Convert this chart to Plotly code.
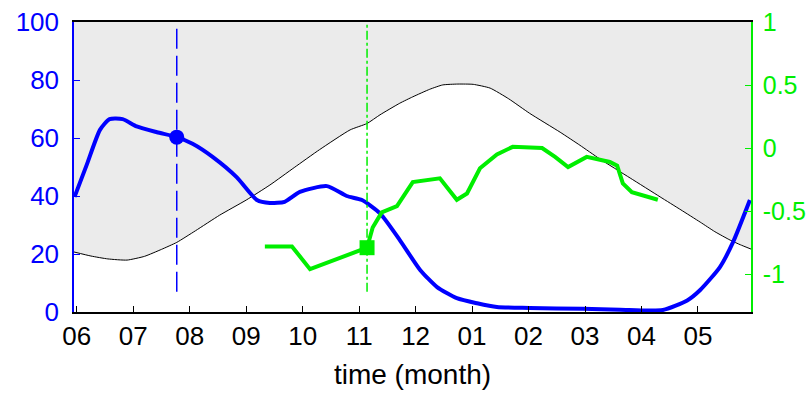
import plotly.graph_objects as go

# month labels (x axis: month index from June)
month_labels = ["06", "07", "08", "09", "10", "11", "12", "01", "02", "03", "04", "05"]
month_pos = list(range(12))

# blue series (left axis, 0-100)
blue_x = [-0.04, 0.18, 0.41, 0.58, 0.81, 1.06, 1.42, 1.77, 2.05, 2.41, 2.83, 3.19, 3.42,
          3.68, 3.95, 4.43, 4.78, 5.05, 5.37, 5.72, 6.08, 6.38, 6.73, 7.09, 7.44, 8.02,
          8.96, 9.62, 10.38, 10.81, 11.04, 11.39, 11.62, 11.92]
blue_y = [39.7, 51, 62.8, 66.5, 66.5, 64, 62, 60.3, 58, 53.4, 46.5, 38.6, 37.6,
          38, 41.4, 43.4, 40, 38.6, 34, 24.8, 14.5, 8.6, 4.8, 3, 1.7, 1.4,
          1.1, 0.8, 0.7, 4, 7.6, 15.5, 24, 38.6]

# black reference curve (left axis)
black_x = [-0.05, 0.25, 0.55, 0.89, 1.20, 1.50, 1.77, 2.10, 2.53, 3.00, 3.42, 3.85, 4.30, 4.84, 5.14,
           5.37, 5.72, 5.95, 6.25, 6.48, 6.75, 7.02, 7.32, 7.65, 8.02, 8.56, 8.91, 9.26, 9.80,
           10.33, 10.70, 11.04, 11.30, 11.57, 11.75, 11.94]
black_y = [20.7, 19.3, 18.3, 17.9, 19.2, 21.6, 24, 28.0, 33.4, 38.6, 43.8, 49.8, 56, 62.8, 65,
           68, 72, 74.2, 76.8, 78.3, 78.6, 78.5, 77.2, 73.5, 68.5, 62, 57.5, 52.8, 46.2,
           39.7, 35.2, 31, 27.7, 24.8, 23.2, 21.7]

# green series (right axis)
green_x = [3.33, 3.81, 4.13, 5.01, 5.14, 5.24, 5.40, 5.67, 5.95, 6.43, 6.73, 6.91, 7.14,
           7.44, 7.72, 8.24, 8.47, 8.70, 9.03, 9.44, 9.57, 9.67, 9.83, 10.29]
green_y = [-0.78, -0.78, -0.96, -0.81, -0.79, -0.63, -0.51, -0.46, -0.27, -0.24, -0.41, -0.36, -0.16,
           -0.05, 0.01, 0.0, -0.07, -0.15, -0.07, -0.11, -0.14, -0.28, -0.35, -0.41]

blue_mark = (1.77, 60.3)
green_mark = (5.14, -0.79)

BLUE = "#0000ff"
GREEN = "#00ee00"
FONT = "Liberation Sans, Arial, sans-serif"

fig = go.Figure()
# gray region above the black curve
fig.add_trace(go.Scatter(x=[black_x[0], black_x[-1]], y=[100, 100], mode="lines",
                         line=dict(width=0), hoverinfo="skip", showlegend=False))
fig.add_trace(go.Scatter(x=black_x, y=black_y, mode="lines", fill="tonexty",
                         fillcolor="#ebebeb", line=dict(color="black", width=1, shape="spline", smoothing=0.5),
                         showlegend=False))
fig.add_trace(go.Scatter(x=blue_x, y=blue_y, mode="lines",
                         line=dict(color=BLUE, width=4, shape="spline", smoothing=0.6),
                         showlegend=False))
fig.add_trace(go.Scatter(x=[blue_mark[0]], y=[blue_mark[1]], mode="markers",
                         marker=dict(color=BLUE, size=15, symbol="circle"), showlegend=False))
fig.add_trace(go.Scatter(x=green_x, y=green_y, mode="lines", yaxis="y2",
                         line=dict(color=GREEN, width=4), showlegend=False))
fig.add_trace(go.Scatter(x=[green_mark[0]], y=[green_mark[1]], mode="markers", yaxis="y2",
                         marker=dict(color=GREEN, size=15, symbol="square"), showlegend=False))

fig.add_shape(type="line", x0=blue_mark[0], x1=blue_mark[0], y0=0.07, y1=1, xref="x", yref="paper",
              line=dict(color=BLUE, width=1.5, dash="20px,7px"))
fig.add_shape(type="line", x0=green_mark[0], x1=green_mark[0], y0=0.07, y1=1, xref="x", yref="paper",
              line=dict(color=GREEN, width=1.5, dash="dashdot"))

fig.update_layout(
    width=811, height=395,
    margin=dict(l=74, r=60, t=22, b=83, autoexpand=False),
    paper_bgcolor="white", plot_bgcolor="white",
    font=dict(family=FONT, size=26, color="black"),
    xaxis=dict(range=[-0.05, 11.94], tickvals=month_pos, ticktext=month_labels,
               ticks="inside", ticklen=6, tickcolor="black", showline=True, linecolor="black",
               linewidth=1.5, mirror=True, showgrid=False, zeroline=False, automargin=False,
               title=dict(text="time (month)", standoff=14, font=dict(size=28)),
               tickfont=dict(size=26, color="black")),
    yaxis=dict(range=[0, 100], tickvals=[0, 20, 40, 60, 80, 100], ticks="inside", ticklen=6,
               tickcolor=BLUE, showline=True, linecolor=BLUE, linewidth=1.5, showgrid=False,
               zeroline=False, automargin=False, tickfont=dict(size=26, color=BLUE), ticklabelstandoff=8),
    yaxis2=dict(range=[-1.3, 1], overlaying="y", side="right",
                tickvals=[-1, -0.5, 0, 0.5, 1], ticktext=["-1", "-0.5", "0", "0.5", "1"],
                ticks="inside", ticklen=6, tickcolor=GREEN, showline=True, linecolor=GREEN,
                linewidth=1.5, showgrid=False, zeroline=False, automargin=False,
                tickfont=dict(size=25, color=GREEN), ticklabelstandoff=5),
)

fig.write_html("out.html", config={"displayModeBar": False},
               post_script="document.body.style.margin='0';document.body.style.padding='0';")
